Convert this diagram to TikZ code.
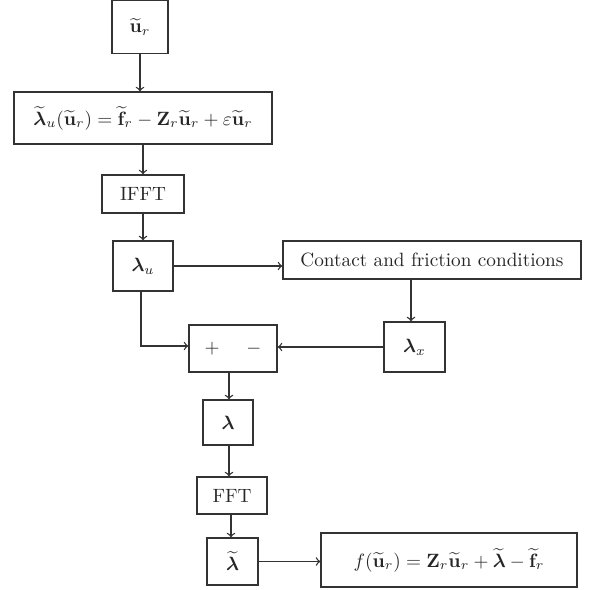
\documentclass[tikz,border=0pt]{standalone}
\usepackage{amsmath}
\usepackage{bm}
\usepackage{tikz}
\usetikzlibrary{arrows,positioning}

\begin{document}
\begin{tikzpicture}[x=0.52pt,y=-0.52pt,line width=0.7pt,draw=black!80]
      \tikzstyle{blk} = [rectangle, draw=black!80, inner sep=0pt, text=black!85]
      \tikzstyle{flow} = [->, draw=black!80]
      \useasboundingbox (0,0) rectangle (590,590);

      \node[blk, minimum width=29.1pt, minimum height=27.6pt] (ur) at (140,27) {$\widetilde{\mathbf{u}}_r$};
      \node[blk, minimum width=134.2pt, minimum height=27pt] (lameq) at (143,118)
        {$\widetilde{\bm{\lambda}}_u(\widetilde{\mathbf{u}}_r) = \widetilde{\mathbf{f}}_r - \mathbf{Z}_r\widetilde{\mathbf{u}}_r + \varepsilon\widetilde{\mathbf{u}}_r$};
      \node[blk, minimum width=42.6pt, minimum height=19.8pt] (ifft) at (143,194) {IFFT};
      \node[blk, minimum width=31.2pt, minimum height=26pt] (lamu) at (143,266) {$\bm{\lambda}_u$};
      \node[blk, minimum width=155pt, minimum height=19.8pt] (contact) at (432,260) {Contact and friction conditions};
      \node[blk, minimum width=31.7pt, minimum height=26pt] (lamx) at (414.5,347) {$\bm{\lambda}_x$};
      \node[blk, minimum width=45.8pt, minimum height=24.4pt] (pm) at (233,348.5) {$+$\hspace{14pt}$-$};
      \node[blk, minimum width=26pt, minimum height=23.4pt] (lam) at (228,422.5) {$\bm{\lambda}$};
      \node[blk, minimum width=36.4pt, minimum height=19.2pt] (fft) at (232,495.5) {FFT};
      \node[blk, minimum width=26.5pt, minimum height=24.4pt] (tlam) at (232.5,561.5) {$\widetilde{\bm{\lambda}}$};
      \node[blk, minimum width=133.1pt, minimum height=28.1pt] (final) at (449,560)
        {$f(\widetilde{\mathbf{u}}_r) = \mathbf{Z}_r\widetilde{\mathbf{u}}_r + \widetilde{\bm{\lambda}} - \widetilde{\mathbf{f}}_r$};

      \draw[flow] (ur) -- (lameq.north -| ur);
      \draw[flow] (lameq.south -| ifft) -- (ifft);
      \draw[flow] (ifft) -- (lamu);
      \draw[flow] (lamu) -- (contact.west |- lamu);
      \draw[flow] (contact.south -| 411,0) -- (lamx.north -| 411,0);
      \draw[flow] (lamu.south -| 141,0) |- (pm.west |- 0,346);
      \draw[flow] (lamx.west |- 0,347) -- (pm.east |- 0,347);
      \draw[flow] (pm.south -| 229,0) -- (lam.north -| 229,0);
      \draw[flow] (lam.south -| 229,0) -- (fft.north -| 229,0);
      \draw[flow] (fft.south -| 231,0) -- (tlam.north -| 231,0);
      \draw[flow] (tlam) -- (final.west |- tlam);
    \end{tikzpicture}
\end{document}
